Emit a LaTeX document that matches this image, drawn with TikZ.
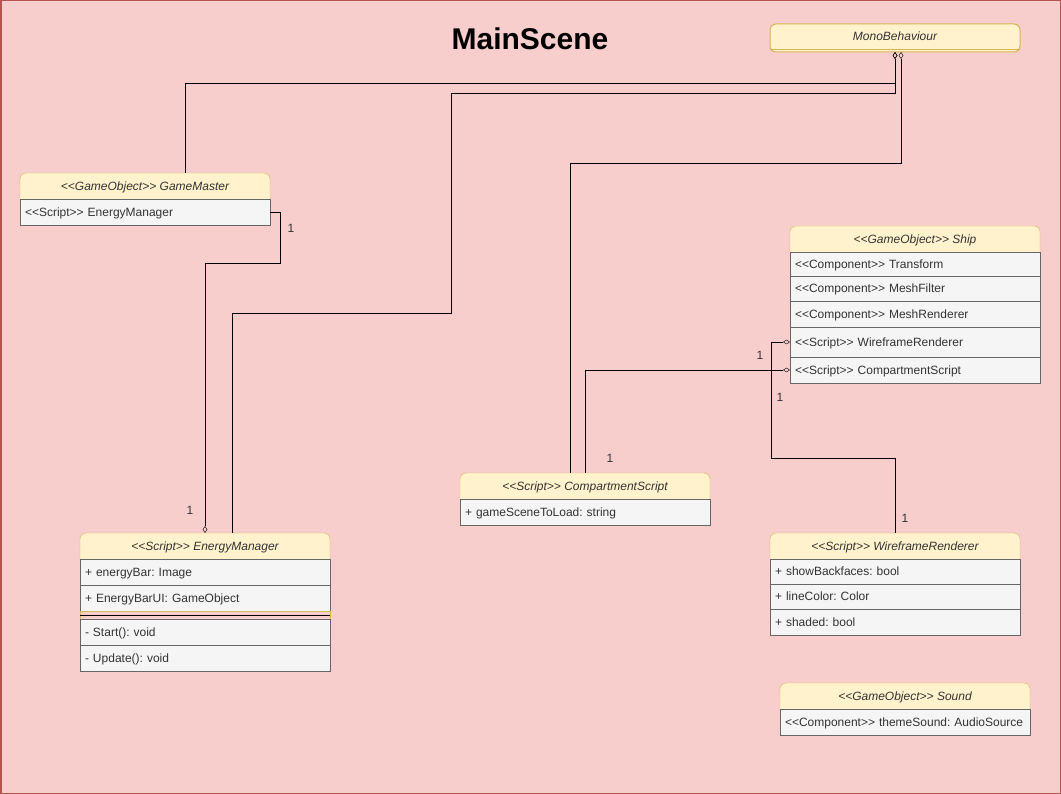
\documentclass[tikz,border=0pt]{standalone}
\usepackage{fontspec}
\setmainfont{Liberation Sans}[Ligatures=TeXOff]
\frenchspacing
\definecolor{scenepink}{HTML}{F8CECC}
\definecolor{sceneline}{HTML}{B85450}
\definecolor{headfill}{HTML}{FFF2CC}
\definecolor{headdraw}{HTML}{D6B656}
\definecolor{rowfill}{HTML}{F5F5F5}
\definecolor{rowdraw}{HTML}{666666}
\definecolor{rowtext}{HTML}{333333}
\usetikzlibrary{arrows.meta, positioning, calc, backgrounds}
\tikzset{
    headbox/.style={rectangle, minimum width=250pt, minimum height=26pt, inner sep=0pt, outer sep=0pt,
                    text height=9.6pt, text depth=1pt, align=center, text=rowtext,
                    font=\fontsize{12}{14}\selectfont\itshape},
    headline/.style={draw=headdraw, fill=headfill},
    monobox/.style={headbox, draw=headdraw, fill=headfill, rounded corners=6pt, minimum height=28pt,
                    text depth=4.6pt},
    rowbox/.style={rectangle, draw=rowdraw, fill=rowfill, minimum width=250pt, minimum height=26pt,
                   text width=240pt, inner xsep=5pt, inner ysep=0pt, outer sep=0pt, align=left,
                   text height=9.6pt, text depth=1pt, text=rowtext, font=\fontsize{12}{14}\selectfont},
    sepbox/.style={rectangle, draw=headdraw, minimum width=250pt, minimum height=8pt, inner sep=0pt, outer sep=0pt},
    mult/.style={text=rowtext, font=\fontsize{12}{14}\selectfont, inner sep=0pt},
    aggr/.style={-{Diamond[open, length=7pt, width=4.5pt]}, black},
}
% rounded header of a class, drawn behind its text
\newcommand{\headshape}[1]{%
  \begin{pgfonlayer}{background}
    \path[headline] (#1.south west) -- ([yshift=-6pt]#1.north west)
      arc[start angle=180, end angle=90, radius=6pt] -- ([xshift=-6pt]#1.north east)
      arc[start angle=90, end angle=0, radius=6pt] -- (#1.south east);
  \end{pgfonlayer}}

\begin{document}
\begin{tikzpicture}[x=1pt, y=-1pt, line width=1pt]
    \useasboundingbox (0,0) rectangle (1061,794);
    % Scene frame
    \begin{scope}[on background layer]
        \filldraw[fill=scenepink, draw=sceneline, line width=1.5pt] (0.75,0.75) rectangle (1060.25,793.25);
    \end{scope}
    \node[font=\fontsize{30}{36}\selectfont\bfseries] (title) at (530,38.5) {MainScene};

    % MonoBehaviour
    \node[monobox, anchor=north west] (mono) at (770,24) {MonoBehaviour};
    \draw[headdraw] ([yshift=2pt]mono.south west) -- ([yshift=2pt]mono.south east);
    \coordinate (monoL) at ([xshift=125pt]mono.south west);
    \coordinate (monoR) at ([xshift=131pt]mono.south west);

    % GameMaster
    \node[headbox, anchor=north west] (gmhead) at (20,173) {<<GameObject>> GameMaster};
    \headshape{gmhead}
    \node[rowbox, below=0pt of gmhead] (gmrow) {<<Script>> EnergyManager};

    % Ship
    \node[headbox, anchor=north west] (shiphead) at (790,226) {<<GameObject>> Ship};
    \headshape{shiphead}
    \node[rowbox, minimum height=24pt, below=0pt of shiphead] (shiptf) {<<Component>> Transform};
    \node[rowbox, minimum height=25pt, below=0pt of shiptf] (shipmf) {<<Component>> MeshFilter};
    \node[rowbox, below=0pt of shipmf] (shipmr) {<<Component>> MeshRenderer};
    \node[rowbox, minimum height=30pt, below=0pt of shipmr] (shipwr) {<<Script>> WireframeRenderer};
    \node[rowbox, below=0pt of shipwr] (shipcs) {<<Script>> CompartmentScript};

    % CompartmentScript
    \node[headbox, anchor=north west] (cshead) at (460,473) {<<Script>> CompartmentScript};
    \headshape{cshead}
    \node[rowbox, below=0pt of cshead] (csrow) {+ gameSceneToLoad: string};

    % EnergyManager
    \node[headbox, anchor=north west] (emhead) at (80,533) {<<Script>> EnergyManager};
    \headshape{emhead}
    \node[rowbox, below=0pt of emhead] (emrow1) {+ energyBar: Image};
    \node[rowbox, below=0pt of emrow1] (emrow2) {+ EnergyBarUI: GameObject};
    \node[sepbox, below=0pt of emrow2] (emsep) {};
    \draw (emsep.west) -- (emsep.east);
    \node[rowbox, below=0pt of emsep] (emrow3) {- Start(): void};
    \node[rowbox, below=0pt of emrow3] (emrow4) {- Update(): void};

    % WireframeRenderer
    \node[headbox, anchor=north west] (wrhead) at (770,533) {<<Script>> WireframeRenderer};
    \headshape{wrhead}
    \node[rowbox, minimum height=25pt, below=0pt of wrhead] (wrrow1) {+ showBackfaces: bool};
    \node[rowbox, minimum height=25pt, below=0pt of wrrow1] (wrrow2) {+ lineColor: Color};
    \node[rowbox, below=0pt of wrrow2] (wrrow3) {+ shaded: bool};

    % Sound
    \node[headbox, anchor=north west] (sndhead) at (780,683) {<<GameObject>> Sound};
    \headshape{sndhead}
    \node[rowbox, below=0pt of sndhead] (sndrow) {<<Component>> themeSound: AudioSource};

    % Connectors
    \draw[aggr] ([xshift=40pt]gmhead.north) -- ++(0,-90) -| (monoL);
    \draw[aggr] ([xshift=27pt]emhead.north) -- ++(0,-220) -| ++(219,-220) -| (monoL);
    \draw[aggr] ([xshift=-15pt]cshead.north) -- ++(0,-310) -| (monoR);
    \draw[aggr] (gmrow.east) -- ++(10,0) -- ++(0,51) -| (emhead.north);
    \draw[aggr] (cshead.north) |- (shipcs.west);
    \draw[aggr] (wrhead.north) -- ++(0,-75) -| ([xshift=-19pt]shipwr.west) -- (shipwr.west);

    % Multiplicities
    \node[mult] (mgm) at (291,228) {1};
    \node[mult] (mem) at (190,510) {1};
    \node[mult] (mcs) at (610,458) {1};
    \node[mult] (mshipcs) at (780,397) {1};
    \node[mult] (mshipwr) at (760,355) {1};
    \node[mult] (mwr) at (905,518) {1};
\end{tikzpicture}
\end{document}
